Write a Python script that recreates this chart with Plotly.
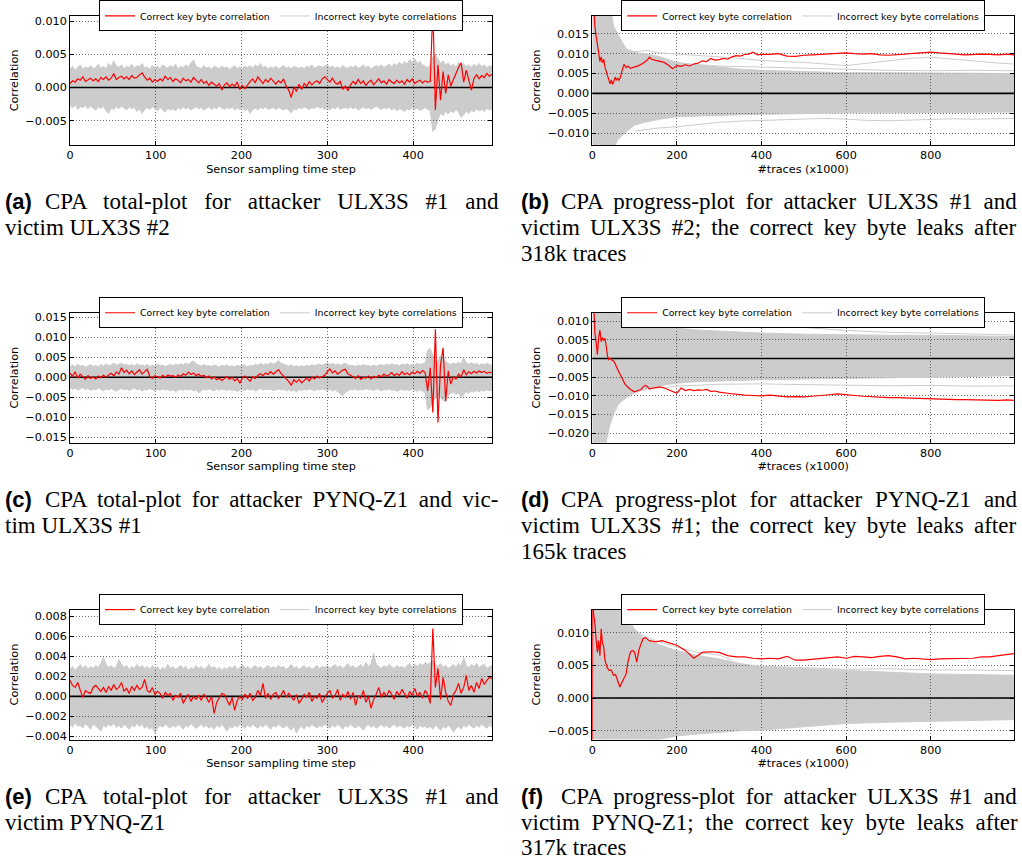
import plotly.graph_objects as go

W, H = 1022, 859
SANS = "DejaVu Sans"
SERIF = "Liberation Serif"
RED = "#ff0000"
GRAY = "#cccccc"
GRAY_FILL = "rgba(0,0,0,0.2)"
MILLI = 1e-3  # all correlation values below are listed in units of 1e-3

LEG_RED = "Correct key byte correlation"
LEG_GRAY = "Incorrect key byte correlations"
X_TOTAL = "Sensor sampling time step"
X_PROG = "#traces (x1000)"
Y_TITLE = "Correlation"

T_STEP = 3  # total-plot values read at every 3rd sensor sampling time step (0..492)

# ---------------- (a) total-plot, attacker ULX3S #1 / victim ULX3S #2 ----------------
a_red = [
    0.6, 1.0, 0.8, 1.3, 1.1, 1.6, 0.9, 1.2, 1.4, 1.0,
    1.3, 0.9, 1.5, 1.2, 1.6, 1.1, 1.4, 2.1, 1.2, 1.5,
    1.7, 1.3, 1.6, 1.2, 1.8, 1.4, 1.5, 1.9, 2.2, 1.6,
    1.1, 1.4, 0.8, 1.2, 0.9, 1.3, 1.0, 1.7, 1.2, 1.5,
    0.9, 1.3, 1.1, 0.7, 1.4, 1.0, 1.2, 0.8, 1.5, 1.1,
    0.7, 1.2, 0.6, 0.9, 0.3, 0.8, 0.5, 0.2, 0.6, -0.4,
    0.4, 0.7, 0.1, 0.5, 0.2, 0.8, -0.3, 0.3, -0.2, 0.4,
    0.9, 1.3, 0.7, 1.6, 1.1, 0.6, 1.2, 0.8, 1.4, 0.9,
    0.5, 1.0, 0.7, 1.3, 0.2, -0.4, -1.5, 0.1, -0.6, 0.5,
    -0.3, 0.6, 0.2, 0.9, 0.4, 0.8, 1.0, 0.6, 1.3, 1.6,
    1.2, 0.8, 1.4, 0.7, 0.5, 0.9, -0.3, 0.2, -0.5, 0.4,
    0.9, 0.5, 1.2, 0.6, 1.0, 0.3, 0.8, 1.1, 0.4, 0.9,
    1.3, 0.7, 1.0, 0.5, 1.2, 0.8, 0.6, 1.1, 0.7, 1.0,
    0.5, 1.2, 0.8, 1.3, 0.6, 0.9, 1.1, 0.7, 1.0, 0.8,
    0.9, 12.0, -3.4, 3.4, -1.9, 2.4, -0.9, 1.9, 0.2, 1.2, 2.2, 3.0, 3.7,
    0.8, 2.6, 1.0, -0.4, 1.4, 1.9, 1.3, 1.8, 1.5, 2.1, 1.7, 2.0,
]
a_upper = [
    2.8, 3.2, 2.6, 3.0, 3.4, 2.7, 3.1, 2.9, 3.3, 2.8,
    3.0, 3.5, 2.9, 3.2, 2.7, 3.6, 3.1, 4.0, 3.3, 3.0,
    3.4, 2.8, 3.2, 3.0, 3.5, 2.9, 3.3, 3.1, 3.6, 2.9,
    3.1, 2.7, 3.3, 3.0, 3.2, 2.8, 3.4, 3.1, 2.9, 3.3,
    3.0, 3.5, 2.8, 3.2, 3.0, 3.4, 3.1, 3.7, 4.1, 3.2,
    3.0, 2.8, 3.3, 2.9, 3.1, 2.7, 3.2, 3.0, 2.8, 3.2,
    2.9, 3.1, 2.7, 3.0, 3.3, 2.8, 3.1, 2.9, 3.2, 3.0,
    3.3, 2.9, 3.4, 3.1, 3.6, 3.0, 3.2, 2.8, 3.1, 2.9,
    3.2, 2.8, 3.0, 3.3, 2.9, 3.1, 2.8, 3.2, 3.0, 2.9,
    3.1, 2.8, 3.2, 3.0, 3.4, 2.9, 3.1, 3.3, 3.0, 3.2,
    3.4, 3.0, 3.2, 2.9, 3.1, 2.8, 3.3, 3.0, 2.9, 3.2,
    3.0, 3.3, 2.9, 3.1, 3.4, 3.0, 3.2, 2.8, 3.1, 3.3,
    3.1, 3.4, 3.0, 3.2, 3.5, 3.1, 3.6, 3.3, 3.8, 3.4,
    3.9, 3.5, 4.2, 3.7, 4.3, 3.6, 3.9, 3.4, 3.2, 3.0,
    3.3, 4.6, 5.0, 4.4, 3.6, 4.0, 3.4, 3.7, 3.2, 3.5, 3.0, 3.8, 3.3,
    3.6, 3.1, 3.4, 3.0, 3.5, 3.2, 3.6, 3.1, 3.4, 3.0, 3.3, 3.1,
]
a_lower = [
    -2.7, -3.1, -2.6, -3.3, -2.9, -3.0, -2.7, -3.2, -2.8, -3.1,
    -3.4, -2.9, -3.2, -2.8, -3.5, -3.9, -3.1, -3.3, -2.9, -3.2,
    -2.8, -3.1, -3.4, -2.9, -3.2, -3.0, -3.6, -3.2, -3.9, -3.3,
    -3.0, -3.3, -2.9, -3.2, -3.5, -3.0, -3.3, -3.7, -3.1, -3.4,
    -3.2, -3.5, -3.0, -3.3, -2.9, -3.2, -3.0, -3.4, -3.1, -2.9,
    -3.2, -3.0, -3.4, -3.1, -2.9, -3.3, -3.0, -3.2, -2.8, -3.1,
    -3.3, -3.0, -3.2, -2.9, -3.4, -3.1, -3.3, -3.0, -3.5, -3.2,
    -3.9, -3.3, -3.1, -3.4, -3.0, -3.2, -2.9, -3.3, -3.1, -3.0,
    -3.3, -3.0, -3.2, -3.4, -3.1, -3.5, -3.8, -3.2, -3.4, -3.0,
    -3.2, -2.9, -3.1, -3.3, -3.0, -3.2, -2.8, -3.1, -3.0, -3.3,
    -3.1, -3.4, -3.0, -3.2, -2.9, -3.3, -3.1, -3.0, -3.2, -2.9,
    -3.2, -3.0, -3.4, -3.1, -2.9, -3.2, -3.0, -3.3, -3.1, -2.8,
    -3.1, -3.3, -3.0, -3.2, -2.9, -3.4, -3.1, -3.5, -3.2, -3.3,
    -3.6, -3.2, -3.4, -3.0, -3.3, -3.1, -3.5, -3.2, -3.0, -3.3,
    -3.5, -6.6, -6.2, -4.8, -3.9, -4.2, -3.6, -4.0, -3.5, -3.8, -3.3, -3.7, -4.5,
    -4.1, -3.6, -3.9, -3.4, -3.7, -3.2, -3.5, -3.3, -3.6, -3.1, -3.4, -3.2,
]

# ---------------- (c) total-plot, attacker PYNQ-Z1 / victim ULX3S #1 ----------------
c_red = [
    1.0, 0.3, 1.4, -0.2, 0.8, 0.2, -0.5, 0.4, -0.3, 0.1,
    -0.4, 0.3, -0.1, 0.5, 0.0, 0.6, 1.0, 0.4, 1.3, 0.8,
    2.4, 1.2, 1.8, 0.9, 1.6, 0.7, 1.4, 1.9, 0.8, 1.5,
    2.0, 0.2, -0.3, 0.4, 0.1, -0.2, 0.5, 0.0, 0.6, 0.3,
    0.4, 0.0, 0.6, 0.2, 0.9, 0.5, 1.3, 0.7, 1.1, 0.4,
    0.8, 0.2, 0.5, -0.1, 0.3, -0.4, 0.1, -0.6, -0.2, -0.8,
    -0.3, 0.2, -0.5, 0.0, -0.9, -0.3, -1.5, -0.2, 0.3, -0.4,
    -1.0, 0.1, -0.3, 0.5, 0.9, 0.4, 1.1, 0.7, 1.4, 0.8,
    1.3, 1.9, 1.0, 0.3, -0.4, -1.0, -2.0, -0.6, -1.2, -0.5,
    -1.4, -0.8, -0.2, -0.9, 0.1, -0.4, 0.3, -0.2, 0.2, 0.5,
    1.4, 2.1, 1.1, 1.6, 0.8, 1.3, 1.8, 2.0, 0.9, 0.5,
    0.1, -0.3, 0.4, -0.5, 0.0, -0.2, 0.3, -0.4, 0.2, -0.1,
    0.5, 0.1, 0.8, 0.3, 0.6, 1.2, 0.4, 0.9, 0.5, 1.4,
    0.7, 1.1, 0.6, 1.3, 0.9, 1.5, 1.0, 1.7, 1.2, -3.4,
    2.4, -8.8, 12.0, -11.3, 3.0, 7.4, -5.9, 1.6, -1.7, 0.2, -0.4, 0.8, 0.1,
    1.9, 0.6, 1.4, 0.9, 1.5, 1.1, 1.6, 1.2, 1.5, 1.0, 1.3, 1.1,
]
c_upper = [
    2.6, 3.1, 2.7, 3.3, 2.8, 3.0, 2.5, 2.9, 3.2, 2.7,
    3.0, 2.6, 3.2, 2.8, 3.4, 2.9, 3.1, 3.6, 3.0, 3.3,
    3.5, 3.1, 3.3, 2.9, 3.2, 2.8, 3.4, 3.0, 3.1, 2.8,
    3.2, 2.7, 3.0, 2.8, 3.3, 2.9, 3.1, 2.7, 3.0, 3.2,
    2.9, 3.3, 3.0, 3.4, 3.1, 3.6, 3.2, 3.8, 4.1, 3.4,
    3.1, 2.8, 3.2, 2.9, 3.0, 2.7, 3.1, 2.8, 2.6, 3.0,
    2.8, 3.1, 2.7, 2.9, 2.6, 3.0, 2.8, 3.2, 2.9, 2.7,
    3.0, 2.8, 3.3, 3.0, 3.5, 3.1, 3.4, 3.2, 3.7, 3.3,
    3.6, 4.2, 3.5, 3.2, 3.0, 2.8, 3.1, 2.7, 2.9, 2.6,
    2.9, 2.7, 3.0, 2.8, 3.2, 2.9, 3.1, 3.3, 3.0, 3.4,
    3.6, 3.2, 3.5, 3.1, 3.4, 3.0, 3.3, 3.5, 3.1, 2.9,
    3.0, 2.7, 3.1, 2.8, 3.2, 2.9, 3.0, 2.7, 3.1, 2.8,
    3.0, 3.2, 2.9, 3.3, 3.0, 3.4, 3.1, 3.2, 2.9, 3.3,
    3.1, 3.4, 3.0, 3.3, 3.1, 3.5, 3.2, 3.4, 3.6, 6.8,
    7.2, 5.6, 4.4, 3.8, 5.4, 4.6, 3.9, 3.5, 3.2, 3.6, 3.3, 3.8, 3.4,
    4.9, 3.6, 3.3, 3.7, 3.2, 3.5, 3.0, 3.4, 3.1, 3.5, 3.2, 3.0,
]
c_lower = [
    -2.6, -3.0, -2.7, -3.2, -2.9, -2.6, -3.1, -2.8, -3.3, -2.9,
    -3.1, -2.7, -3.0, -3.4, -2.9, -3.2, -2.8, -3.1, -3.5, -3.0,
    -2.8, -3.2, -2.9, -3.3, -3.0, -2.7, -3.1, -2.9, -3.4, -3.0,
    -3.2, -2.8, -3.1, -3.5, -3.0, -3.3, -2.9, -3.2, -3.0, -3.4,
    -3.1, -3.6, -3.2, -3.0, -3.3, -2.9, -3.2, -3.0, -3.4, -3.1,
    -3.9, -3.3, -3.0, -3.2, -2.9, -3.1, -3.4, -3.0, -3.2, -2.9,
    -3.1, -3.3, -3.0, -3.4, -3.1, -3.6, -3.2, -3.0, -3.3, -2.9,
    -3.2, -3.0, -3.4, -3.1, -2.8, -3.2, -2.9, -3.1, -3.0, -3.3,
    -3.1, -2.9, -3.2, -3.0, -3.4, -3.1, -3.5, -3.2, -3.6, -3.1,
    -3.3, -3.0, -3.2, -2.9, -3.1, -3.4, -3.0, -3.2, -2.9, -3.1,
    -3.3, -3.0, -3.4, -3.1, -3.6, -4.2, -4.6, -3.8, -3.3, -3.0,
    -3.2, -2.9, -3.3, -3.0, -3.2, -2.8, -3.1, -3.0, -3.3, -2.9,
    -3.1, -3.4, -3.0, -3.2, -2.9, -3.3, -3.1, -3.5, -3.2, -3.0,
    -3.3, -3.1, -3.4, -3.0, -3.2, -3.5, -3.1, -3.4, -3.8, -8.2,
    -7.5, -6.0, -5.2, -4.5, -4.9, -5.8, -6.2, -4.6, -4.0, -3.7, -4.3, -3.9, -5.1,
    -4.2, -3.6, -3.9, -3.4, -3.7, -3.3, -3.6, -3.2, -3.5, -3.1, -3.4, -3.2,
]

# ---------------- (e) total-plot, attacker ULX3S #1 / victim PYNQ-Z1 ----------------
e_red = [
    1.6, 1.1, 0.9, 1.4, 0.6, -0.1, 0.6, 0.4, 0.3, 0.9,
    1.1, 0.8, 0.5, 0.9, 0.4, 1.0, 0.6, 1.2, 0.7, 0.9,
    1.4, 0.5, 0.8, 0.3, 1.0, 0.6, 1.1, 0.7, 0.9, 1.7,
    0.6, 0.4, 0.9, 0.2, 0.5, 0.3, -0.2, 0.4, 0.1, 0.3,
    -0.4, 0.1, -0.1, 0.3, -0.7, -0.2, 0.2, -0.5, 0.0, -0.3,
    0.1, -0.4, 0.2, -0.1, -0.6, 0.0, -1.7, -0.6, -0.1, 0.3,
    0.2, -0.3, -0.9, -0.1, -1.4, -0.4, 0.0, -0.3, 0.2, -0.2,
    0.3, -0.4, -0.1, 0.6, 0.1, 1.3, -0.2, 0.3, -0.3, 0.2,
    0.4, -0.2, 0.1, 0.6, -0.1, 0.3, 0.0, -0.4, 0.2, -0.7,
    -0.3, 0.2, -0.1, 0.4, -0.5, 0.0, -0.2, 0.3, -0.6, -0.1,
    0.3, 0.6, -0.2, 0.1, 0.7, -0.4, 0.2, -0.1, 0.5, -0.3,
    0.4, -0.9, 0.1, -0.2, 0.6, -0.6, 0.0, -1.2, -0.3, 0.2,
    0.9, -0.1, 0.4, 0.0, 0.6, 0.2, -0.3, 0.5, 0.1, 0.7,
    0.3, -0.2, 0.5, 0.1, 0.8, 0.0, 0.4, -0.2, 0.6, 0.2,
    -0.7, 6.8, 0.9, 2.8, -0.3, 1.9, 0.4, -0.5, -0.9, 0.2, 0.6, 1.3, 0.3,
    0.9, 2.1, 0.6, 1.1, 0.4, 1.4, 0.8, 1.8, 1.2, 1.6, 1.9, 1.8,
]
e_upper = [
    2.7, 3.0, 2.6, 2.9, 3.2, 2.8, 3.1, 2.7, 3.0, 2.8,
    3.1, 2.9, 3.3, 3.9, 3.2, 2.9, 3.1, 2.8, 3.0, 3.7,
    3.2, 2.9, 3.1, 2.7, 3.0, 2.8, 3.2, 2.9, 3.1, 2.8,
    3.0, 2.7, 3.1, 2.8, 3.0, 2.6, 2.9, 2.7, 3.2, 2.8,
    3.0, 2.7, 2.9, 3.1, 2.8, 3.0, 2.6, 2.9, 2.7, 3.1,
    2.8, 3.0, 2.7, 2.9, 3.2, 2.8, 3.0, 2.7, 2.9, 2.6,
    2.9, 2.7, 3.0, 2.8, 3.1, 2.7, 2.9, 3.2, 2.8, 3.0,
    2.7, 2.9, 3.1, 2.8, 3.0, 2.7, 2.9, 3.1, 2.8, 3.0,
    2.8, 3.1, 2.9, 3.0, 2.7, 2.9, 3.2, 2.8, 3.0, 2.7,
    2.9, 3.1, 2.8, 3.0, 2.7, 2.9, 3.1, 2.8, 3.0, 2.9,
    3.1, 2.8, 3.0, 3.2, 2.9, 3.1, 2.8, 3.0, 3.3, 2.9,
    3.1, 2.8, 3.0, 3.2, 2.9, 3.4, 3.0, 3.3, 4.3, 3.2,
    3.0, 2.8, 3.1, 2.9, 3.2, 3.0, 2.8, 3.1, 2.9, 3.0,
    2.8, 3.1, 3.3, 2.9, 3.2, 3.0, 3.3, 3.1, 3.4, 3.2,
    3.4, 3.6, 3.2, 3.0, 3.3, 2.9, 3.1, 2.8, 3.0, 3.2, 2.9, 3.3, 3.0,
    3.9, 3.1, 2.9, 3.2, 3.0, 3.3, 2.9, 3.1, 3.2, 2.8, 3.0, 3.1,
]
e_lower = [
    -2.8, -3.1, -2.6, -3.0, -2.9, -3.2, -2.7, -3.0, -3.3, -2.8,
    -3.0, -3.2, -3.5, -2.9, -3.1, -2.8, -3.0, -2.7, -3.1, -2.9,
    -3.2, -2.8, -3.0, -3.3, -2.9, -3.1, -2.7, -3.0, -2.8, -3.2,
    -3.0, -3.3, -3.1, -3.7, -3.2, -2.9, -3.1, -2.8, -3.0, -3.2,
    -2.9, -3.1, -2.8, -3.0, -3.3, -2.9, -3.1, -2.7, -3.0, -3.2,
    -3.0, -2.8, -3.1, -2.9, -3.2, -3.0, -3.3, -2.9, -3.1, -2.8,
    -3.1, -3.5, -3.0, -3.2, -2.9, -3.1, -2.8, -3.0, -3.2, -2.9,
    -3.1, -2.8, -3.0, -3.2, -2.9, -3.1, -2.8, -3.0, -3.3, -2.9,
    -3.1, -2.8, -3.0, -3.2, -2.9, -3.1, -3.4, -3.0, -3.7, -3.2,
    -3.0, -3.3, -2.9, -3.1, -2.8, -3.0, -3.2, -2.9, -3.1, -2.8,
    -3.0, -3.2, -2.9, -3.1, -2.8, -3.0, -3.3, -2.9, -3.1, -2.8,
    -3.0, -3.2, -2.9, -3.1, -3.4, -3.0, -2.8, -3.1, -2.9, -3.2,
    -3.0, -2.8, -3.1, -2.9, -3.2, -3.0, -2.8, -3.1, -2.9, -3.0,
    -3.2, -2.9, -3.1, -2.8, -3.0, -3.3, -2.9, -3.1, -3.0, -3.2,
    -3.0, -3.3, -2.9, -3.1, -3.4, -3.0, -3.2, -2.9, -3.1, -3.6, -3.2, -3.0, -3.3,
    -2.9, -3.1, -2.8, -3.0, -3.2, -2.9, -3.1, -2.8, -3.0, -3.2, -2.9, -3.1,
]

# ---------------- (b) progress-plot, attacker ULX3S #1 / victim ULX3S #2 ----------------
b_red_x = [0, 3, 6, 9, 12, 15, 18, 21, 24, 27, 30, 33, 36, 39, 42, 45, 48, 51, 54, 57, 60, 63, 66,
           70, 75, 80, 85, 90, 95, 100, 110, 120, 130, 135, 140,
           150, 160, 170, 180, 190, 200, 210, 220, 230, 240, 250, 260, 270, 280, 290, 300,
           310, 320, 330, 340, 350, 360, 370, 380, 390, 400,
           420, 440, 460, 480, 500, 520, 540, 560, 580, 600, 620, 640, 660, 680, 700,
           720, 740, 760, 780, 800, 820, 840, 860, 880, 900, 920, 940, 960, 980, 997]
b_red = [30, 22, 17, 14.5, 11.5, 10.3, 8.0, 9.2, 7.7, 8.6, 6.6, 5.5, 4.5, 3.3, 2.4, 3.4, 2.3, 3.0, 4.1, 3.4, 3.8, 3.3, 3.9,
         5.6, 7.3, 6.5, 6.9, 6.3, 6.5, 6.6, 7.0, 7.6, 8.4, 9.1, 8.6,
         8.3, 8.0, 7.8, 7.1, 6.2, 7.0, 6.8, 7.2, 6.9, 7.4, 7.6, 8.2, 8.0, 8.8, 8.4, 8.5,
         8.8, 8.6, 9.2, 9.5, 9.4, 9.8, 9.9, 10.4, 9.7, 9.8,
         9.8, 10.0, 9.4, 9.3, 9.6, 9.7, 9.8, 10.0, 10.1, 10.2, 10.0, 9.9, 10.0, 9.7, 9.6,
         9.7, 9.9, 10.1, 10.3, 10.4, 10.2, 10.1, 9.9, 9.7, 9.8, 9.9, 9.8, 9.7, 9.9, 9.7]
b_env_x = [0, 10, 20, 30, 40, 50, 60, 70, 80, 90, 100, 120, 140, 160, 180, 200, 250, 300, 350, 400, 500, 600, 700, 800, 900, 997]
b_upper = [30, 30, 30, 28, 24, 17, 15, 13, 11.2, 10.8, 10.3, 10.0, 9.7, 9.2, 8.5, 7.8, 7.2, 6.6, 6.1, 5.8, 5.5, 5.2, 5.2, 5.1, 5.1, 5.0]
b_lower = [-30, -30, -30, -30, -25, -14, -11.7, -10.6, -9.7, -8.8, -8.0, -7.4, -6.9, -6.5, -6.2, -5.9, -5.7, -5.5, -5.4, -5.25, -5.1, -4.9, -4.9, -4.8, -4.7, -4.7]
b_out1_x = [80, 100, 130, 160, 200, 250, 300, 350, 400, 450, 500, 550, 600, 650, 700, 750, 800, 850, 900, 950, 997]
b_out1 = [11.0, 10.5, 10.8, 10.2, 9.9, 9.6, 9.2, 8.8, 8.3, 8.0, 7.8, 7.4, 7.0, 7.6, 8.2, 8.8, 9.1, 8.7, 8.2, 7.7, 7.4]
b_out2_x = [150, 200, 300, 400, 500, 600, 700, 800, 900, 997]
b_out2 = [8.2, 7.5, 6.9, 6.6, 6.3, 6.0, 5.8, 5.7, 5.8, 5.7]
b_out3_x = [100, 150, 200, 250, 300, 350, 400, 450, 500, 550, 600, 650, 700, 750, 800, 850, 900, 950, 997]
b_out3 = [-9.5, -8.8, -8.4, -7.8, -7.3, -7.0, -6.8, -6.6, -6.4, -6.3, -6.5, -6.8, -6.9, -6.7, -6.6, -6.4, -6.5, -6.3, -6.3]

# ---------------- (d) progress-plot, attacker PYNQ-Z1 / victim ULX3S #1 ----------------
d_red_x = [0, 3, 6, 9, 12, 15, 18, 21, 24, 27, 30, 33, 36, 39, 42,
           46, 50, 54, 58, 62, 66, 70, 74, 78, 82, 86, 90,
           95, 100, 105, 110, 115, 120, 125, 130, 135, 140,
           150, 160, 170, 180, 190, 200, 210, 220, 230, 240, 250, 260, 270, 280, 290, 300,
           320, 340, 360, 380, 400, 420, 440, 460, 480, 500, 520, 540, 560, 580, 600,
           620, 640, 660, 680, 700, 720, 740, 760, 780, 800, 820, 840, 860, 880, 900,
           920, 940, 960, 980, 997]
d_red = [25, 14, 7.0, 4.5, 1.0, 5.6, 7.6, 4.5, 5.6, 4.8, 5.4, 3.2, 0.6, -0.3, 0.1,
         -0.4, -0.6, -1.4, -2.2, -3.4, -4.3, -5.4, -6.1, -7.0, -7.4, -8.0, -8.3,
         -8.6, -8.9, -8.7, -8.5, -8.3, -7.6, -7.2, -7.5, -8.2, -8.0,
         -7.8, -7.6, -7.9, -8.4, -8.9, -9.3, -7.9, -8.6, -8.3, -8.6, -8.4, -8.5, -8.3, -8.8, -8.7, -9.0,
         -9.3, -9.6, -9.8, -9.9, -10.0, -9.8, -10.1, -10.3, -10.2, -10.3, -10.1, -10.0, -9.7, -9.5, -9.6,
         -9.9, -10.1, -10.3, -10.4, -10.5, -10.5, -10.6, -10.7, -10.7, -10.8, -11.0, -10.9, -11.0, -11.0, -11.1,
         -11.0, -11.1, -11.2, -11.1, -11.2]
d_env_x = [0, 10, 20, 30, 40, 50, 60, 70, 80, 90, 100, 120, 140, 160, 180, 200, 250, 300, 350, 400, 500, 600, 700, 800, 900, 997]
d_upper = [30, 30, 30, 30, 25, 18, 15, 13, 12, 11.5, 11.0, 10.2, 9.5, 9.0, 8.5, 8.1, 7.6, 7.3, 7.0, 6.8, 6.5, 6.3, 6.2, 6.2, 6.0, 5.9]
d_lower = [-30, -30, -30, -24, -18.5, -15, -12.5, -11.4, -10.5, -9.8, -9.2, -8.4, -7.8, -7.3, -6.9, -6.6, -6.2, -6.0, -5.8, -5.7, -5.5, -5.4, -5.2, -5.0, -4.8, -4.6]
d_out1_x = [60, 80, 100, 150, 200, 250, 300, 350, 400, 450, 500, 600, 700, 800, 900, 997]
d_out1 = [13, 12, 11.5, 11.0, 10.6, 10.2, 10.0, 9.8, 9.5, 9.0, 8.3, 7.5, 7.0, 6.8, 6.5, 6.3]
d_out2_x = [150, 200, 300, 400, 500, 600, 700, 800, 900, 997]
d_out2 = [-8.0, -7.4, -6.9, -6.8, -7.0, -7.2, -7.3, -7.2, -7.4, -7.3]

# ---------------- (f) progress-plot, attacker ULX3S #1 / victim PYNQ-Z1 ----------------
f_red_x = [0, 1, 3, 6, 9, 12, 15, 18, 21, 24, 27, 30,
           35, 40, 45, 50, 55, 60, 65, 70, 75, 80, 85, 90, 95, 100, 105, 110, 115, 120, 125,
           135, 150, 165, 180,
           200, 220, 240, 260, 280, 300, 320, 340, 360, 380, 400, 420, 440, 460, 480, 500, 520, 540, 560, 580,
           600, 620, 640, 660, 680, 700, 720, 740, 760, 780, 800, 820, 840, 860, 880, 900, 920, 940, 960, 980, 997]
f_red = [-10, 20, 12.9, 11.6, 9.0, 7.0, 8.8, 6.5, 10.6, 8.5, 7.8, 5.8,
         4.7, 4.2, 4.3, 3.5, 3.6, 2.7, 1.7, 2.4, 3.0, 3.7, 5.8, 7.0, 7.3, 7.0, 5.5, 7.3, 8.3, 9.1, 9.3,
         8.8, 8.6, 8.8, 8.5,
         8.1, 7.3, 6.1, 7.0, 7.1, 7.0, 6.5, 6.3, 6.3, 6.1, 6.0, 6.1, 6.0, 6.4, 5.8, 5.8, 5.9, 6.0, 6.2, 6.3,
         6.1, 6.4, 6.3, 6.2, 6.4, 6.5, 6.3, 6.0, 6.1, 6.0, 5.9, 6.0, 6.0, 6.1, 6.0, 6.1, 6.3, 6.3, 6.5, 6.6, 6.8]
f_env_x = [0, 10, 20, 30, 40, 50, 60, 70, 80, 90, 100, 120, 140, 160, 180, 200, 250, 300, 350, 400, 500, 600, 700, 800, 900, 997]
f_upper = [30, 30, 30, 30, 25, 20, 15, 13.5, 12.0, 11.2, 10.6, 9.3, 8.6, 8.1, 7.7, 7.3, 6.5, 6.0, 5.3, 4.8, 4.5, 4.2, 4.0, 3.7, 3.6, 3.5]
f_lower = [-30, -30, -30, -30, -20, -15, -12, -10, -9, -8, -7.5, -7.0, -6.6, -6.3, -6.0, -5.8, -5.5, -5.2, -5.0, -4.9, -4.4, -3.9, -3.7, -3.6, -3.4, -3.3]
f_out1_x = [60, 70, 80, 90, 100, 120, 150, 200, 250, 300, 330]
f_out1 = [14, 13, 12.3, 11.8, 10.5, 9.6, 8.8, 7.8, 7.0, 6.6, 5.8]
f_out2_x = [400, 500, 600, 700, 800, 900, 997]
f_out2 = [4.9, 4.6, 4.4, 4.5, 4.3, 4.3, 4.2]

# ---------------- captions ----------------
CAP_LABELS = ["(a)", "(b)", "(c)", "(d)", "(e)", "(f)"]
CAP_LINES = [
    ["CPA total-plot for attacker ULX3S #1 and", "victim ULX3S #2"],
    ["CPA progress-plot for attacker ULX3S #1 and", "victim ULX3S #2; the correct key byte leaks after", "318k traces"],
    ["CPA total-plot for attacker PYNQ-Z1 and vic-", "tim ULX3S #1"],
    ["CPA progress-plot for attacker PYNQ-Z1 and", "victim ULX3S #1; the correct key byte leaks after", "165k traces"],
    ["CPA total-plot for attacker ULX3S #1 and", "victim PYNQ-Z1"],
    ["CPA progress-plot for attacker ULX3S #1 and", "victim PYNQ-Z1; the correct key byte leaks after", "317k traces"],
]
CAP_WORDSPACE = [[11, 0], [5.2, 4.4, 0], [4.8, 0], [7.2, 4.4, 0], [11, 0], [5.2, 5.9, 0]]


def milli(v):
    return [x * MILLI for x in v]


def idx_x(v):
    return [T_STEP * i for i in range(len(v))]


panels = [
    dict(kind="total", red_x=idx_x(a_red), red=a_red, up_x=idx_x(a_upper), up=a_upper,
         lo_x=idx_x(a_lower), lo=a_lower, out=[], yr=(-0.00865, 0.01076), ydt=0.005),
    dict(kind="prog", red_x=b_red_x, red=b_red, up_x=b_env_x, up=b_upper, lo_x=b_env_x, lo=b_lower,
         out=[(b_out1_x, b_out1), (b_out2_x, b_out2), (b_out3_x, b_out3)], yr=(-0.0130, 0.0195), ydt=0.005),
    dict(kind="total", red_x=idx_x(c_red), red=c_red, up_x=idx_x(c_upper), up=c_upper,
         lo_x=idx_x(c_lower), lo=c_lower, out=[], yr=(-0.01635, 0.01615), ydt=0.005),
    dict(kind="prog", red_x=d_red_x, red=d_red, up_x=d_env_x, up=d_upper, lo_x=d_env_x, lo=d_lower,
         out=[(d_out1_x, d_out1), (d_out2_x, d_out2)], yr=(-0.02253, 0.01223), ydt=0.005),
    dict(kind="total", red_x=idx_x(e_red), red=e_red, up_x=idx_x(e_upper), up=e_upper,
         lo_x=idx_x(e_lower), lo=e_lower, out=[], yr=(-0.00433, 0.0087), ydt=0.002),
    dict(kind="prog", red_x=f_red_x, red=f_red, up_x=f_env_x, up=f_upper, lo_x=f_env_x, lo=f_lower,
         out=[(f_out1_x, f_out1), (f_out2_x, f_out2)], yr=(-0.00636, 0.01356), ydt=0.005),
]

# panel geometry in pixels
COLS = [(70, 492), (592.3, 1014)]
ROWS = [(14, 143.3), (311.5, 441.7), (609, 739.3)]


def fx(px):
    return px / W


def fy(py):
    return 1 - py / H


fig = go.Figure()
layout = {}
annotations = []

axis_style = dict(
    showline=True, linecolor="black", linewidth=1, mirror="ticks",
    ticks="inside", ticklen=4, tickwidth=1, tickcolor="black",
    showgrid=True, gridcolor="#6e6e6e", gridwidth=1, griddash="1px,2px",
    zeroline=False, automargin=False,
    tickfont=dict(family=SANS, size=11.2, color="black"),
)

for i, p in enumerate(panels, start=1):
    col = (i - 1) % 2
    row = (i - 1) // 2
    xa = "x" if i == 1 else f"x{i}"
    ya = "y" if i == 1 else f"y{i}"
    lg = "legend" if i == 1 else f"legend{i}"
    common = dict(xaxis=xa, yaxis=ya, legend=lg, hoverinfo="skip")
    xmax = max(p["red_x"])

    fig.add_trace(go.Scatter(x=p["up_x"], y=milli(p["up"]), mode="lines",
                             line=dict(color=GRAY, width=1), name=LEG_GRAY,
                             showlegend=True, **common))
    fig.add_trace(go.Scatter(x=p["lo_x"], y=milli(p["lo"]), mode="lines",
                             line=dict(color=GRAY, width=1), fill="tonexty",
                             fillcolor=GRAY_FILL, showlegend=False, **common))
    for ox, oy in p["out"]:
        fig.add_trace(go.Scatter(x=ox, y=milli(oy), mode="lines",
                                 line=dict(color=GRAY, width=1), showlegend=False, **common))
    fig.add_trace(go.Scatter(x=[0, xmax], y=[0, 0], mode="lines",
                             line=dict(color="black", width=1.6), showlegend=False, **common))
    fig.add_trace(go.Scatter(x=p["red_x"], y=milli(p["red"]), mode="lines",
                             line=dict(color=RED, width=1.2), name=LEG_RED,
                             showlegend=True, **common))

    x0, x1 = COLS[col]
    ytop, ybot = ROWS[row]
    xdom = [fx(x0), fx(x1)]
    ydom = [fy(ybot), fy(ytop)]
    xk = "xaxis" if i == 1 else f"xaxis{i}"
    yk = "yaxis" if i == 1 else f"yaxis{i}"
    layout[xk] = dict(domain=xdom, range=[0, xmax], anchor=ya, tickmode="linear", tick0=0,
                      dtick=100 if p["kind"] == "total" else 200,
                      title=dict(text=X_TOTAL if p["kind"] == "total" else X_PROG, standoff=3,
                                 font=dict(family=SANS, size=11.2, color="black")),
                      **axis_style)
    layout[yk] = dict(domain=ydom, range=list(p["yr"]), anchor=xa, tickmode="linear", tick0=0,
                      dtick=p["ydt"], tickformat=".3f",
                      title=dict(text=Y_TITLE, standoff=4,
                                 font=dict(family=SANS, size=11.2, color="black")),
                      **axis_style)
    layout[lg] = dict(x=(xdom[0] + xdom[1]) / 2, y=ydom[1], xanchor="center", yanchor="middle",
                      orientation="h", traceorder="reversed", bgcolor="white",
                      bordercolor="black", borderwidth=1,
                      font=dict(family=SANS, size=9.3, color="black"), itemwidth=30,
                      tracegroupgap=0)

    # caption
    cap_left = [3, 519][col]
    cap_text_left = [42.7, 558.7][col]
    cap_y0 = [200.3, 498.7, 796.3][row]
    annotations.append(dict(xref="paper", yref="paper", x=fx(cap_left), y=fy(cap_y0),
                            xanchor="left", yanchor="middle", showarrow=False,
                            text="<b>" + CAP_LABELS[i - 1] + "</b>",
                            font=dict(family="Liberation Sans", size=22, color="black")))
    for k, line in enumerate(CAP_LINES[i - 1]):
        ws = CAP_WORDSPACE[i - 1][k]
        txt = f'<span style="word-spacing:{ws}px">{line}</span>' if ws else line
        annotations.append(dict(xref="paper", yref="paper",
                                x=fx(cap_text_left if k == 0 else cap_left),
                                y=fy(cap_y0 + 25.8 * k), xanchor="left", yanchor="middle",
                                showarrow=False, text=txt,
                                font=dict(family=SERIF, size=23, color="black")))

fig.update_layout(width=W, height=H, margin=dict(l=0, r=0, t=0, b=0), autosize=False,
                  paper_bgcolor="white", plot_bgcolor="white", showlegend=True,
                  annotations=annotations, **layout)

fig.write_html("out.html", config={"displayModeBar": False, "staticPlot": True},
               post_script="document.body.style.margin='0px';document.body.style.overflow='hidden';")
